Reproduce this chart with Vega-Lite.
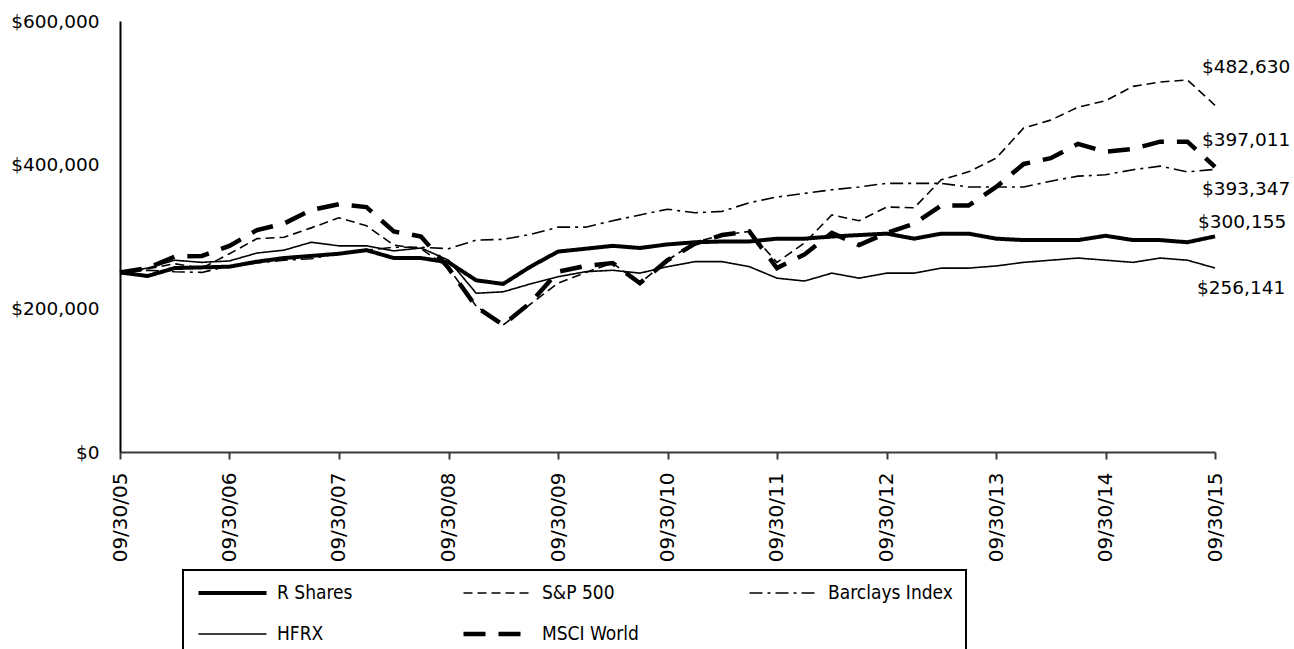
{
"$schema": "https://vega.github.io/schema/vega-lite/v6.json",
"width": 1095, "height": 431,
"autosize": {"type": "none"},
"padding": {"left": 120, "top": 21, "right": 79, "bottom": 197},
"background": "white",
"config": {"view": {"stroke": null}, "font": "DejaVu Sans"},
"data": {"format": {"parse": {"date": "date"}}, "values": [
{"date":"2005-09-30","series":"R Shares","value":250000},{"date":"2005-12-31","series":"R Shares","value":245000},{"date":"2006-03-31","series":"R Shares","value":256000},{"date":"2006-06-30","series":"R Shares","value":257000},{"date":"2006-09-30","series":"R Shares","value":258000},{"date":"2006-12-31","series":"R Shares","value":265000},{"date":"2007-03-31","series":"R Shares","value":270000},{"date":"2007-06-30","series":"R Shares","value":273000},{"date":"2007-09-30","series":"R Shares","value":276000},{"date":"2007-12-31","series":"R Shares","value":281000},{"date":"2008-03-31","series":"R Shares","value":270000},{"date":"2008-06-30","series":"R Shares","value":270000},{"date":"2008-09-30","series":"R Shares","value":264000},{"date":"2008-12-31","series":"R Shares","value":239000},{"date":"2009-03-31","series":"R Shares","value":234000},{"date":"2009-06-30","series":"R Shares","value":258000},{"date":"2009-09-30","series":"R Shares","value":279000},{"date":"2009-12-31","series":"R Shares","value":283000},{"date":"2010-03-31","series":"R Shares","value":287000},{"date":"2010-06-30","series":"R Shares","value":284000},{"date":"2010-09-30","series":"R Shares","value":289000},{"date":"2010-12-31","series":"R Shares","value":292000},{"date":"2011-03-31","series":"R Shares","value":293000},{"date":"2011-06-30","series":"R Shares","value":293000},{"date":"2011-09-30","series":"R Shares","value":297000},{"date":"2011-12-31","series":"R Shares","value":297000},{"date":"2012-03-31","series":"R Shares","value":300000},{"date":"2012-06-30","series":"R Shares","value":302000},{"date":"2012-09-30","series":"R Shares","value":304000},{"date":"2012-12-31","series":"R Shares","value":297000},{"date":"2013-03-31","series":"R Shares","value":304000},{"date":"2013-06-30","series":"R Shares","value":304000},{"date":"2013-09-30","series":"R Shares","value":297000},{"date":"2013-12-31","series":"R Shares","value":295000},{"date":"2014-03-31","series":"R Shares","value":295000},{"date":"2014-06-30","series":"R Shares","value":295000},{"date":"2014-09-30","series":"R Shares","value":301000},{"date":"2014-12-31","series":"R Shares","value":295000},{"date":"2015-03-31","series":"R Shares","value":295000},{"date":"2015-06-30","series":"R Shares","value":292000},{"date":"2015-09-30","series":"R Shares","value":300155},
{"date":"2005-09-30","series":"S&P 500","value":250000},{"date":"2005-12-31","series":"S&P 500","value":255000},{"date":"2006-03-31","series":"S&P 500","value":262000},{"date":"2006-06-30","series":"S&P 500","value":256000},{"date":"2006-09-30","series":"S&P 500","value":276000},{"date":"2006-12-31","series":"S&P 500","value":297000},{"date":"2007-03-31","series":"S&P 500","value":299000},{"date":"2007-06-30","series":"S&P 500","value":312000},{"date":"2007-09-30","series":"S&P 500","value":326000},{"date":"2007-12-31","series":"S&P 500","value":315000},{"date":"2008-03-31","series":"S&P 500","value":288000},{"date":"2008-06-30","series":"S&P 500","value":283000},{"date":"2008-09-30","series":"S&P 500","value":256000},{"date":"2008-12-31","series":"S&P 500","value":203000},{"date":"2009-03-31","series":"S&P 500","value":177000},{"date":"2009-06-30","series":"S&P 500","value":206000},{"date":"2009-09-30","series":"S&P 500","value":235000},{"date":"2009-12-31","series":"S&P 500","value":250000},{"date":"2010-03-31","series":"S&P 500","value":263000},{"date":"2010-06-30","series":"S&P 500","value":235000},{"date":"2010-09-30","series":"S&P 500","value":267000},{"date":"2010-12-31","series":"S&P 500","value":292000},{"date":"2011-03-31","series":"S&P 500","value":302000},{"date":"2011-06-30","series":"S&P 500","value":307000},{"date":"2011-09-30","series":"S&P 500","value":264000},{"date":"2011-12-31","series":"S&P 500","value":291000},{"date":"2012-03-31","series":"S&P 500","value":330000},{"date":"2012-06-30","series":"S&P 500","value":322000},{"date":"2012-09-30","series":"S&P 500","value":341000},{"date":"2012-12-31","series":"S&P 500","value":340000},{"date":"2013-03-31","series":"S&P 500","value":379000},{"date":"2013-06-30","series":"S&P 500","value":390000},{"date":"2013-09-30","series":"S&P 500","value":409000},{"date":"2013-12-31","series":"S&P 500","value":451000},{"date":"2014-03-31","series":"S&P 500","value":462000},{"date":"2014-06-30","series":"S&P 500","value":480000},{"date":"2014-09-30","series":"S&P 500","value":489000},{"date":"2014-12-31","series":"S&P 500","value":509000},{"date":"2015-03-31","series":"S&P 500","value":515000},{"date":"2015-06-30","series":"S&P 500","value":518000},{"date":"2015-09-30","series":"S&P 500","value":482630},
{"date":"2005-09-30","series":"Barclays Index","value":250000},{"date":"2005-12-31","series":"Barclays Index","value":253000},{"date":"2006-03-31","series":"Barclays Index","value":251000},{"date":"2006-06-30","series":"Barclays Index","value":250000},{"date":"2006-09-30","series":"Barclays Index","value":259000},{"date":"2006-12-31","series":"Barclays Index","value":263000},{"date":"2007-03-31","series":"Barclays Index","value":267000},{"date":"2007-06-30","series":"Barclays Index","value":269000},{"date":"2007-09-30","series":"Barclays Index","value":277000},{"date":"2007-12-31","series":"Barclays Index","value":281000},{"date":"2008-03-31","series":"Barclays Index","value":285000},{"date":"2008-06-30","series":"Barclays Index","value":285000},{"date":"2008-09-30","series":"Barclays Index","value":283000},{"date":"2008-12-31","series":"Barclays Index","value":295000},{"date":"2009-03-31","series":"Barclays Index","value":296000},{"date":"2009-06-30","series":"Barclays Index","value":303000},{"date":"2009-09-30","series":"Barclays Index","value":313000},{"date":"2009-12-31","series":"Barclays Index","value":313000},{"date":"2010-03-31","series":"Barclays Index","value":322000},{"date":"2010-06-30","series":"Barclays Index","value":330000},{"date":"2010-09-30","series":"Barclays Index","value":338000},{"date":"2010-12-31","series":"Barclays Index","value":333000},{"date":"2011-03-31","series":"Barclays Index","value":335000},{"date":"2011-06-30","series":"Barclays Index","value":347000},{"date":"2011-09-30","series":"Barclays Index","value":355000},{"date":"2011-12-31","series":"Barclays Index","value":360000},{"date":"2012-03-31","series":"Barclays Index","value":365000},{"date":"2012-06-30","series":"Barclays Index","value":369000},{"date":"2012-09-30","series":"Barclays Index","value":374000},{"date":"2012-12-31","series":"Barclays Index","value":374000},{"date":"2013-03-31","series":"Barclays Index","value":374000},{"date":"2013-06-30","series":"Barclays Index","value":369000},{"date":"2013-09-30","series":"Barclays Index","value":369000},{"date":"2013-12-31","series":"Barclays Index","value":369000},{"date":"2014-03-31","series":"Barclays Index","value":377000},{"date":"2014-06-30","series":"Barclays Index","value":384000},{"date":"2014-09-30","series":"Barclays Index","value":386000},{"date":"2014-12-31","series":"Barclays Index","value":393000},{"date":"2015-03-31","series":"Barclays Index","value":398000},{"date":"2015-06-30","series":"Barclays Index","value":390000},{"date":"2015-09-30","series":"Barclays Index","value":393347},
{"date":"2005-09-30","series":"HFRX","value":250000},{"date":"2005-12-31","series":"HFRX","value":256000},{"date":"2006-03-31","series":"HFRX","value":267000},{"date":"2006-06-30","series":"HFRX","value":264000},{"date":"2006-09-30","series":"HFRX","value":266000},{"date":"2006-12-31","series":"HFRX","value":277000},{"date":"2007-03-31","series":"HFRX","value":281000},{"date":"2007-06-30","series":"HFRX","value":292000},{"date":"2007-09-30","series":"HFRX","value":287000},{"date":"2007-12-31","series":"HFRX","value":287000},{"date":"2008-03-31","series":"HFRX","value":280000},{"date":"2008-06-30","series":"HFRX","value":284000},{"date":"2008-09-30","series":"HFRX","value":267000},{"date":"2008-12-31","series":"HFRX","value":221000},{"date":"2009-03-31","series":"HFRX","value":223000},{"date":"2009-06-30","series":"HFRX","value":234000},{"date":"2009-09-30","series":"HFRX","value":244000},{"date":"2009-12-31","series":"HFRX","value":251000},{"date":"2010-03-31","series":"HFRX","value":253000},{"date":"2010-06-30","series":"HFRX","value":249000},{"date":"2010-09-30","series":"HFRX","value":258000},{"date":"2010-12-31","series":"HFRX","value":265000},{"date":"2011-03-31","series":"HFRX","value":265000},{"date":"2011-06-30","series":"HFRX","value":258000},{"date":"2011-09-30","series":"HFRX","value":242000},{"date":"2011-12-31","series":"HFRX","value":238000},{"date":"2012-03-31","series":"HFRX","value":249000},{"date":"2012-06-30","series":"HFRX","value":242000},{"date":"2012-09-30","series":"HFRX","value":249000},{"date":"2012-12-31","series":"HFRX","value":249000},{"date":"2013-03-31","series":"HFRX","value":256000},{"date":"2013-06-30","series":"HFRX","value":256000},{"date":"2013-09-30","series":"HFRX","value":259000},{"date":"2013-12-31","series":"HFRX","value":264000},{"date":"2014-03-31","series":"HFRX","value":267000},{"date":"2014-06-30","series":"HFRX","value":270000},{"date":"2014-09-30","series":"HFRX","value":267000},{"date":"2014-12-31","series":"HFRX","value":264000},{"date":"2015-03-31","series":"HFRX","value":270000},{"date":"2015-06-30","series":"HFRX","value":267000},{"date":"2015-09-30","series":"HFRX","value":256141},
{"date":"2005-09-30","series":"MSCI World","value":250000},{"date":"2005-12-31","series":"MSCI World","value":256000},{"date":"2006-03-31","series":"MSCI World","value":272000},{"date":"2006-06-30","series":"MSCI World","value":273000},{"date":"2006-09-30","series":"MSCI World","value":287000},{"date":"2006-12-31","series":"MSCI World","value":309000},{"date":"2007-03-31","series":"MSCI World","value":318000},{"date":"2007-06-30","series":"MSCI World","value":337000},{"date":"2007-09-30","series":"MSCI World","value":345000},{"date":"2007-12-31","series":"MSCI World","value":341000},{"date":"2008-03-31","series":"MSCI World","value":307000},{"date":"2008-06-30","series":"MSCI World","value":300000},{"date":"2008-09-30","series":"MSCI World","value":256000},{"date":"2008-12-31","series":"MSCI World","value":202000},{"date":"2009-03-31","series":"MSCI World","value":177000},{"date":"2009-06-30","series":"MSCI World","value":208000},{"date":"2009-09-30","series":"MSCI World","value":251000},{"date":"2009-12-31","series":"MSCI World","value":259000},{"date":"2010-03-31","series":"MSCI World","value":263000},{"date":"2010-06-30","series":"MSCI World","value":235000},{"date":"2010-09-30","series":"MSCI World","value":267000},{"date":"2010-12-31","series":"MSCI World","value":290000},{"date":"2011-03-31","series":"MSCI World","value":302000},{"date":"2011-06-30","series":"MSCI World","value":307000},{"date":"2011-09-30","series":"MSCI World","value":256000},{"date":"2011-12-31","series":"MSCI World","value":275000},{"date":"2012-03-31","series":"MSCI World","value":305000},{"date":"2012-06-30","series":"MSCI World","value":288000},{"date":"2012-09-30","series":"MSCI World","value":305000},{"date":"2012-12-31","series":"MSCI World","value":318000},{"date":"2013-03-31","series":"MSCI World","value":343000},{"date":"2013-06-30","series":"MSCI World","value":343000},{"date":"2013-09-30","series":"MSCI World","value":369000},{"date":"2013-12-31","series":"MSCI World","value":401000},{"date":"2014-03-31","series":"MSCI World","value":409000},{"date":"2014-06-30","series":"MSCI World","value":429000},{"date":"2014-09-30","series":"MSCI World","value":418000},{"date":"2014-12-31","series":"MSCI World","value":422000},{"date":"2015-03-31","series":"MSCI World","value":432000},{"date":"2015-06-30","series":"MSCI World","value":432000},{"date":"2015-09-30","series":"MSCI World","value":397011}
]},
"encoding": {
  "x": {"field": "date", "type": "temporal",
    "scale": {"type": "utc", "nice": false, "domain": [{"year": 2005, "month": "Sep", "date": 30, "utc": true}, {"year": 2015, "month": "Sep", "date": 30, "utc": true}]},
    "axis": {"title": null, "grid": false, "format": "%m/%d/%y", "labelAngle": 270, "labelFont": "DejaVu Sans", "labelFontSize": 20, "labelColor": "black", "labelPadding": 13, "labelOverlap": false, "labelFlush": false, "tickSize": 7, "tickWidth": 2, "tickColor": "#3a3a3a", "domainColor": "#3a3a3a", "domainWidth": 2,
      "values": [{"year": 2005, "month": "Sep", "date": 30, "utc": true}, {"year": 2006, "month": "Sep", "date": 30, "utc": true}, {"year": 2007, "month": "Sep", "date": 30, "utc": true}, {"year": 2008, "month": "Sep", "date": 30, "utc": true}, {"year": 2009, "month": "Sep", "date": 30, "utc": true}, {"year": 2010, "month": "Sep", "date": 30, "utc": true}, {"year": 2011, "month": "Sep", "date": 30, "utc": true}, {"year": 2012, "month": "Sep", "date": 30, "utc": true}, {"year": 2013, "month": "Sep", "date": 30, "utc": true}, {"year": 2014, "month": "Sep", "date": 30, "utc": true}, {"year": 2015, "month": "Sep", "date": 30, "utc": true}]}},
  "y": {"field": "value", "type": "quantitative",
    "scale": {"domain": [0, 600000], "nice": false},
    "axis": {"title": null, "grid": false, "values": [0, 200000, 400000, 600000], "format": "$,.0f", "ticks": false, "tickSize": 0, "labelPadding": 21, "labelFont": "DejaVu Sans", "labelFontSize": 18.5, "labelColor": "black", "domainColor": "black", "domainWidth": 2, "labelFlush": false}}
},
"layer": [
  {"mark": {"type": "line", "color": "black", "strokeCap": "butt", "strokeJoin": "miter"},
   "encoding": {
     "detail": {"field": "series", "type": "nominal"},
     "strokeDash": {"field": "series", "type": "nominal",
       "scale": {"type": "ordinal", "domain": ["R Shares", "S&P 500", "Barclays Index", "HFRX", "MSCI World"], "range": [[1, 0], [9, 5], [13, 5, 3, 5], [1, 0], [22, 13]]},
       "legend": {"title": null, "orient": "none", "direction": "horizontal", "legendX": 63, "legendY": 549, "columns": 3, "symbolType": "stroke", "symbolSize": 4624, "symbolStrokeColor": "black", "clipHeight": 20, "labelFont": "DejaVu Sans Condensed, Liberation Sans Narrow, DejaVu Sans", "labelFontSize": 19, "labelColor": "black", "labelOffset": 8, "columnPadding": 108, "rowPadding": 21, "padding": 13, "strokeColor": "black", "labelLimit": 300, "encode": {"legend": {"update": {"strokeWidth": {"value": 2}}}}}},
     "strokeWidth": {"field": "series", "type": "nominal",
       "scale": {"type": "ordinal", "domain": ["R Shares", "S&P 500", "Barclays Index", "HFRX", "MSCI World"], "range": [4, 1.6, 1.6, 1.6, 4.5]},
       "legend": {"title": null, "orient": "none", "direction": "horizontal", "legendX": 63, "legendY": 549, "columns": 3, "symbolType": "stroke", "symbolSize": 4624, "symbolStrokeColor": "black", "clipHeight": 20, "labelFont": "DejaVu Sans Condensed, Liberation Sans Narrow, DejaVu Sans", "labelFontSize": 19, "labelColor": "black", "labelOffset": 8, "columnPadding": 108, "rowPadding": 21, "padding": 13, "strokeColor": "black", "labelLimit": 300, "encode": {"legend": {"update": {"strokeWidth": {"value": 2}}}}}}
   }},
  {"transform": [{"filter": "datum.series === 'S&P 500' && utcyear(datum.date) === 2015 && utcmonth(datum.date) === 8"}],
   "mark": {"type": "text", "align": "left", "baseline": "middle", "dx": -13, "dy": -38, "font": "DejaVu Sans", "fontSize": 18.5, "color": "black"},
   "encoding": {"text": {"field": "value", "type": "quantitative", "format": "$,.0f"}}},
  {"transform": [{"filter": "datum.series === 'MSCI World' && utcyear(datum.date) === 2015 && utcmonth(datum.date) === 8"}],
   "mark": {"type": "text", "align": "left", "baseline": "middle", "dx": -13, "dy": -27, "font": "DejaVu Sans", "fontSize": 18.5, "color": "black"},
   "encoding": {"text": {"field": "value", "type": "quantitative", "format": "$,.0f"}}},
  {"transform": [{"filter": "datum.series === 'Barclays Index' && utcyear(datum.date) === 2015 && utcmonth(datum.date) === 8"}],
   "mark": {"type": "text", "align": "left", "baseline": "middle", "dx": -13, "dy": 20, "font": "DejaVu Sans", "fontSize": 18.5, "color": "black"},
   "encoding": {"text": {"field": "value", "type": "quantitative", "format": "$,.0f"}}},
  {"transform": [{"filter": "datum.series === 'R Shares' && utcyear(datum.date) === 2015 && utcmonth(datum.date) === 8"}],
   "mark": {"type": "text", "align": "left", "baseline": "middle", "dx": -17, "dy": -14, "font": "DejaVu Sans", "fontSize": 18.5, "color": "black"},
   "encoding": {"text": {"field": "value", "type": "quantitative", "format": "$,.0f"}}},
  {"transform": [{"filter": "datum.series === 'HFRX' && utcyear(datum.date) === 2015 && utcmonth(datum.date) === 8"}],
   "mark": {"type": "text", "align": "left", "baseline": "middle", "dx": -18, "dy": 20, "font": "DejaVu Sans", "fontSize": 18.5, "color": "black"},
   "encoding": {"text": {"field": "value", "type": "quantitative", "format": "$,.0f"}}}
]
}
